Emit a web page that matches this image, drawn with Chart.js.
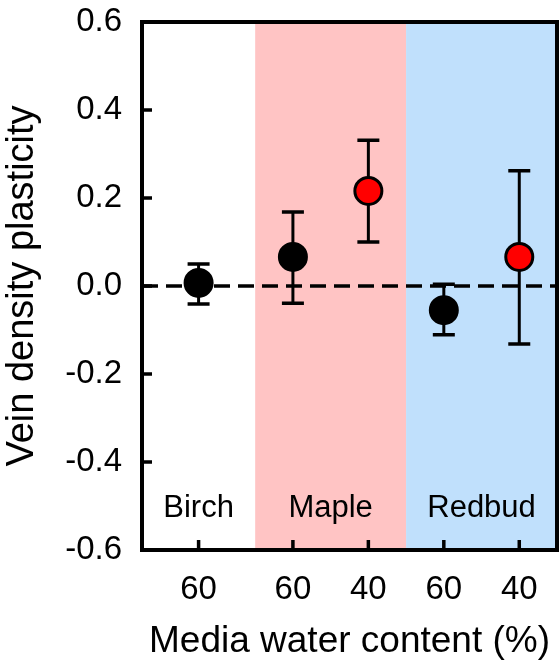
<!DOCTYPE html>
<html>
<head>
<meta charset="utf-8">
<script src="https://cdn.jsdelivr.net/npm/chart.js@4.4.1/dist/chart.umd.min.js"></script>
<style>
  html, body { margin: 0; padding: 0; background: #fff; }
  canvas { display: block; }
</style>
</head>
<body>
<canvas id="plasticity-chart" width="559" height="664"></canvas>
<script>

// species and watering treatment for each point
var species = ['Birch', 'Maple', 'Maple', 'Redbud', 'Redbud'];
var waterContent = ['60', '60', '40', '60', '40'];
var plasticity = [0.007, 0.066, 0.216, -0.055, 0.066];
var errHigh = [0.050, 0.168, 0.331, 0.004, 0.262];
var errLow = [-0.041, -0.039, 0.100, -0.111, -0.132];
var yTicks = [-0.6, -0.4, -0.2, 0.0, 0.2, 0.4, 0.6];

// slot of each point along the x axis, and the species bands
var slots = [0.75, 2, 3, 4, 5];
var bandNames = ['Birch', 'Maple', 'Redbud'];
var bandEdges = [0, 1.5, 3.5, 5.5];
var bandColors = ['#ffffff', '#ffc4c4', '#c0e0fc'];

var pointColors = waterContent.map(function (w) { return w === '40' ? '#ff0000' : '#000000'; });

var font = 'Arial, "Liberation Sans", sans-serif';

var decorations = {
  id: 'decorations',
  beforeDatasetsDraw: function (chart) {
    var ctx = chart.ctx, area = chart.chartArea;
    var x = chart.scales.x, y = chart.scales.y;
    ctx.save();

    // species bands
    for (var i = 0; i < bandNames.length; i++) {
      var x0 = x.getPixelForValue(bandEdges[i]);
      var x1 = x.getPixelForValue(bandEdges[i + 1]);
      ctx.fillStyle = bandColors[i];
      ctx.fillRect(x0, area.top, x1 - x0, area.bottom - area.top);
      ctx.fillStyle = '#000';
      ctx.font = '31px ' + font;
      ctx.textAlign = 'center';
      ctx.textBaseline = 'middle';
      ctx.fillText(bandNames[i], (x0 + x1) / 2, y.getPixelForValue(-0.505));
    }

    // zero line
    ctx.strokeStyle = '#000';
    ctx.lineWidth = 3.5;
    ctx.setLineDash([16, 8]);
    ctx.beginPath();
    ctx.moveTo(area.left, y.getPixelForValue(0));
    ctx.lineTo(area.right, y.getPixelForValue(0));
    ctx.stroke();
    ctx.setLineDash([]);

    // error bars
    for (var j = 0; j < plasticity.length; j++) {
      var px = x.getPixelForValue(slots[j]);
      var top = y.getPixelForValue(errHigh[j]);
      var bot = y.getPixelForValue(errLow[j]);
      ctx.lineWidth = 3;
      ctx.beginPath();
      ctx.moveTo(px, top);
      ctx.lineTo(px, bot);
      ctx.stroke();
      ctx.lineWidth = 3.5;
      ctx.beginPath();
      ctx.moveTo(px - 11, top);
      ctx.lineTo(px + 11, top);
      ctx.moveTo(px - 11, bot);
      ctx.lineTo(px + 11, bot);
      ctx.stroke();
    }
    ctx.restore();
  },
  afterDraw: function (chart) {
    var ctx = chart.ctx, area = chart.chartArea;
    var x = chart.scales.x, y = chart.scales.y;
    ctx.save();
    ctx.strokeStyle = '#000';
    ctx.lineWidth = 3.5;
    // inward ticks
    ctx.beginPath();
    y.ticks.forEach(function (t) {
      var py = y.getPixelForValue(t.value);
      ctx.moveTo(area.left, py);
      ctx.lineTo(area.left + 10, py);
    });
    x.ticks.forEach(function (t) {
      var px = x.getPixelForValue(t.value);
      ctx.moveTo(px, area.bottom);
      ctx.lineTo(px, area.bottom - 10);
    });
    ctx.stroke();
    // frame
    ctx.lineWidth = 4;
    ctx.strokeRect(area.left, area.top, area.right - area.left, area.bottom - area.top);
    ctx.restore();
  }
};

var config = {
  type: 'scatter',
  data: {
    datasets: [{
      data: plasticity.map(function (v, i) { return { x: slots[i], y: v }; }),
      backgroundColor: pointColors,
      borderColor: '#000',
      borderWidth: 3,
      pointRadius: 13.5,
      pointHoverRadius: 13.5
    }]
  },
  options: {
    responsive: false,
    animation: false,
    layout: { autoPadding: false, padding: { top: 22, right: 2, left: 0, bottom: 0 } },
    plugins: { legend: { display: false }, tooltip: { enabled: false } },
    scales: {
      x: {
        type: 'linear',
        min: bandEdges[0],
        max: bandEdges[bandEdges.length - 1],
        afterBuildTicks: function (s) { s.ticks = slots.map(function (v) { return { value: v }; }); },
        afterFit: function (s) { s.height = 114; s.paddingLeft = 0; s.paddingRight = 0; },
        grid: { display: false, drawTicks: false },
        border: { display: false },
        ticks: {
          color: '#000',
          font: { family: font, size: 33 },
          padding: 20,
          maxRotation: 0,
          autoSkip: false,
          callback: function (v, i) { return waterContent[i]; }
        },
        title: {
          display: true,
          text: 'Media water content (%)',
          color: '#000',
          font: { family: font, size: 37 },
          padding: { top: 0, bottom: 0 }
        }
      },
      y: {
        min: yTicks[0],
        max: yTicks[yTicks.length - 1],
        afterBuildTicks: function (s) { s.ticks = yTicks.map(function (v) { return { value: v }; }); },
        afterFit: function (s) { s.width = 142; s.paddingTop = 0; s.paddingBottom = 0; },
        grid: { display: false, drawTicks: false },
        border: { display: false },
        ticks: {
          color: '#000',
          font: { family: font, size: 33 },
          padding: 20,
          callback: function (v) { return Math.abs(v) < 1e-9 ? '0.0' : v.toFixed(1); }
        },
        title: {
          display: true,
          text: 'Vein density plasticity',
          color: '#000',
          font: { family: font, size: 38 },
          padding: { top: 0, bottom: 0 }
        }
      }
    }
  },
  plugins: [decorations]
};

window.onload = function () {
  var ctx = document.getElementById('plasticity-chart').getContext('2d');
  window.plasticityChart = new Chart(ctx, config);
};

</script>
</body>
</html>
